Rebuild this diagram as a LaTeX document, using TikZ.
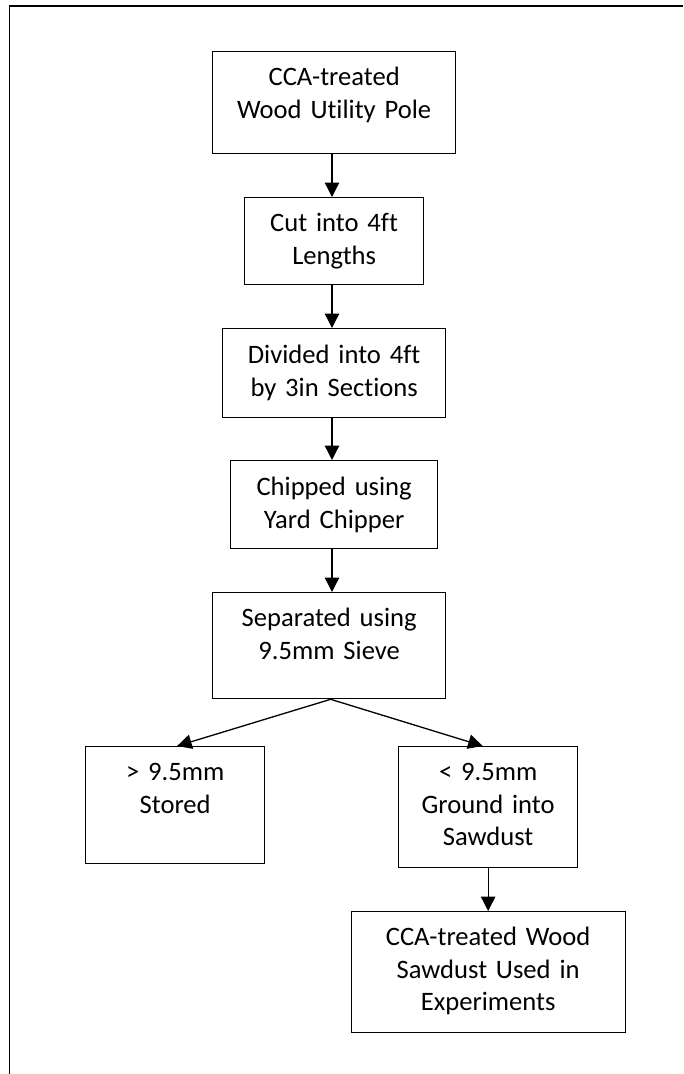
\documentclass[tikz,border=0pt]{standalone}
\usepackage{fontspec}
\setmainfont{Carlito}[Ligatures={NoCommon}]
\usetikzlibrary{arrows.meta,calc}
\tikzset{
  box/.style={draw, line width=1.3pt, inner xsep=0pt, inner ysep=0pt, align=center,
    font=\fontsize{26.6}{32.5}\selectfont, anchor=north west, text height=34pt},
  arr/.style={line width=1.3pt, -{Triangle[length=14.5pt,width=14.5pt]}},
}
\begin{document}
\begin{tikzpicture}[x=1pt,y=-1pt]
\useasboundingbox (0,0) rectangle (683,1074);
\draw[line width=1.6pt] (9.5,1074) -- (9.5,6) -- (683,6);
\node[box, text width=243pt, text depth=68pt] (b1) at (212,51) {CCA-treated\\Wood Utility Pole};
\node[box, text width=179pt, text depth=53pt] (b2) at (244,197) {Cut into 4ft\\Lengths};
\node[box, text width=223pt, text depth=54pt, text height=35pt] (b3) at (222,328) {Divided into 4ft\\by 3in Sections};
\node[box, text width=207pt, text depth=53pt, text height=35pt] (b4) at (230,460) {Chipped using\\Yard Chipper};
\node[box, text width=233pt, text depth=72pt] (b5) at (212,592) {Separated using\\9.5mm Sieve};
\node[box, text width=179pt, text depth=83pt] (b6) at (85,746) {> 9.5mm\\Stored};
\node[box, text width=179pt, text depth=87pt] (b7) at (398,746) {< 9.5mm\\Ground into\\Sawdust};
\node[box, text width=274pt, text depth=87pt] (b8) at (350.5,911) {CCA-treated Wood\\Sawdust Used in\\Experiments};
\coordinate (ax) at (332,0);
\draw[arr] (ax |- b1.south) -- (ax |- b2.north);
\draw[arr] (ax |- b2.south) -- (ax |- b3.north);
\draw[arr] (ax |- b3.south) -- (ax |- b4.north);
\draw[arr] (ax |- b4.south) -- (ax |- b5.north);
\draw[arr] ([xshift=1.5pt]b5.south) -- ([xshift=2pt]b6.north);
\draw[arr] ([xshift=1.5pt]b5.south) -- ([xshift=-5.5pt]b7.north);
\draw[arr] (b7.south) -- (b8.north);
\end{tikzpicture}
\end{document}
